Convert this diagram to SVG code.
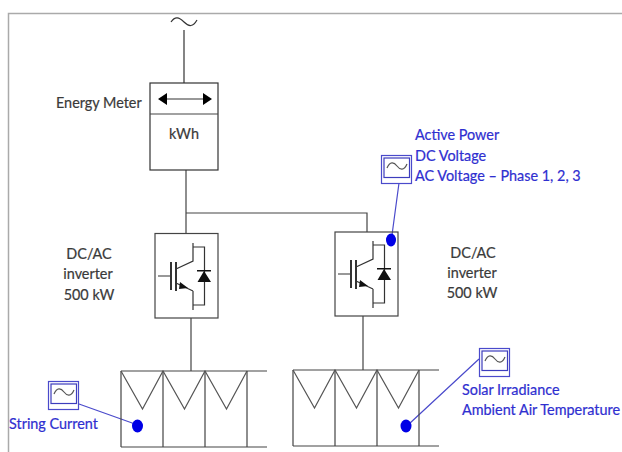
<svg xmlns="http://www.w3.org/2000/svg" xmlns:xlink="http://www.w3.org/1999/xlink" width="622" height="452" viewBox="0 0 622 452">
<style>
.l{fill:none;stroke:#444;stroke-width:1.2}
.k{fill:none;stroke:#333;stroke-width:1.2}
.b{fill:none;stroke:#4a4acb;stroke-width:1.2}
.bd{fill:none;stroke:#3d3dbd;stroke-width:1.2}
.s{fill:none;stroke:#555;stroke-width:1.2}
.dot{fill:#0000e6}
text{font-family:Lato,Carlito,"Open Sans",sans-serif;font-size:14.4px;fill:#3a3a3a;stroke:#3a3a3a;stroke-width:.2}
text.t{fill:#2f2fd0;stroke:#2f2fd0}
.m{text-anchor:middle}
</style>
<defs>
<g id="igbt">
<path class="k" d="M158 276H171M176 269L193 261V243M193 247H204.500V305H193M193 291V310M176 283L193 291"/>
<path class="k" style="stroke-width:2" d="M171 262V290M176 262V291"/>
<path fill="#111" d="M180 282L188 288L179 289ZM197.500 282H211L204 271ZM197 270H211V271.500H197Z"/>
</g>
<g id="inst">
<rect class="b" x="0.500" y="0.500" width="30" height="28"/>
<rect class="bd" x="3" y="3" width="25.500" height="19.500"/>
<path class="s" d="M6 13C9 6 13 7 16 11C19 15 23 16 26 9"/>
</g>
<g id="panel">
<path class="l" d="M0 0H146M0 76H146M0 0V76M42 0V76M84 0V76M126 0V76"/>
<path class="s" d="M0 0L21.500 38L42 0L63.500 38L84 0L105.500 38L126 0"/>
</g>
</defs>
<path id="frame" d="M622 13.500H8.500V452" fill="none" stroke="#aaa" stroke-width="1.500"/>
<g id="connectors">
<path class="k" d="M184 30V83"/>
<path class="l" d="M186 170V233M186 213H367V232M191 318V371M363 316V370"/>
<path class="b" d="M399 183L392 235M79 404L135 424M479 359L409 424"/>
</g>
<g id="ac-source"><path d="M171 22C175 16 179 17 184 22C189 27 193 27 197 20" fill="none" stroke="#333" stroke-width="1.200"/></g>
<g id="energy-meter">
<rect class="k" x="150" y="83" width="68" height="87"/>
<path class="l" d="M150 114H218"/>
<path d="M166 99H204" stroke="#333" stroke-width="1.200"/>
<path fill="#000" d="M158 99L167 93V105ZM212 99L203 93V105Z"/>
<text class="m" x="184" y="139">kWh</text>
<text x="56" y="108">Energy Meter</text>
</g>
<g id="inverter-1">
<rect class="l" x="155" y="233.500" width="63" height="84.500"/>
<use href="#igbt"/>
<text class="m" x="89" y="259">DC/AC</text>
<text class="m" x="88" y="279">inverter</text>
<text class="m" x="89" y="300">500 kW</text>
</g>
<g id="inverter-2">
<rect class="l" x="335" y="232" width="63" height="84"/>
<use href="#igbt" transform="translate(180 -2)"/>
<text class="m" x="473" y="258">DC/AC</text>
<text class="m" x="472" y="278">inverter</text>
<text class="m" x="472" y="298">500 kW</text>
</g>
<g id="panels-1"><use href="#panel" x="121" y="371"/></g>
<g id="panels-2"><use href="#panel" x="293" y="370"/></g>
<g id="sensor-inverter">
<use href="#inst" x="381" y="155"/>
<ellipse class="dot" cx="391" cy="240" rx="5" ry="6.500"/>
<text class="t" x="415" y="140">Active Power</text>
<text class="t" x="415" y="160.500">DC Voltage</text>
<text class="t" x="415" y="181">AC Voltage – Phase 1, 2, 3</text>
</g>
<g id="sensor-string">
<use href="#inst" x="48" y="381"/>
<ellipse class="dot" cx="137.500" cy="426" rx="5.500" ry="6.500"/>
<text class="t" x="9" y="429">String Current</text>
</g>
<g id="sensor-weather">
<use href="#inst" x="479" y="348"/>
<ellipse class="dot" cx="406" cy="426" rx="5.500" ry="6.500"/>
<text class="t" x="462" y="395">Solar Irradiance</text>
<text class="t" x="462" y="415">Ambient Air Temperature</text>
</g>
</svg>
